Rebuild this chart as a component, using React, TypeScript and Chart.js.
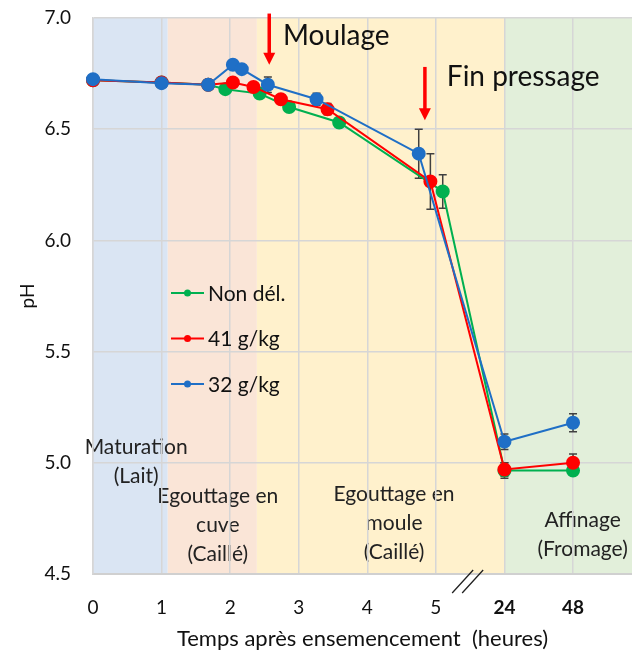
import React, { useEffect, useRef } from 'react';
import { Chart, registerables } from 'chart.js';

Chart.register(...registerables);

// ---- data (hours after inoculation, pH) ----
const hoursNonDel = [0, 1, 1.68, 1.93, 2.43, 2.86, 3.59, 5.1, 24, 48];
const phNonDel = [6.72, 6.71, 6.7, 6.68, 6.66, 6.6, 6.53, 6.22, 4.965, 4.965];
const errNonDel = [0, 0, 0, 0, 0, 0, 0, 0.075, 0.035, 0];

const hours41 = [0, 1, 1.68, 2.04, 2.34, 2.74, 3.42, 4.92, 24, 48];
const ph41 = [6.72, 6.71, 6.7, 6.71, 6.69, 6.635, 6.59, 6.265, 4.97, 5.0];
const err41 = [0, 0, 0, 0, 0, 0, 0.025, 0.125, 0.03, 0.04];

const hours32 = [0, 1, 1.68, 2.04, 2.17, 2.55, 3.26, 4.75, 24, 48];
const ph32 = [6.725, 6.707, 6.7, 6.79, 6.77, 6.7, 6.635, 6.39, 5.095, 5.18];
const err32 = [0, 0, 0, 0, 0, 0.035, 0.027, 0.11, 0.035, 0.04];

const seriesNames = ['Non dél.', '41 g/kg', '32 g/kg'];
const seriesColors = ['#00b050', '#ff0000', '#1f6fc6'];

// broken axis: hours after the break are placed at these axis positions
const breakHours = [24, 48];
const breakPositions = [6, 7];
const xTickPositions = [0, 1, 2, 3, 4, 5, 6, 7];
const yTicks = [4.5, 5.0, 5.5, 6.0, 6.5, 7.0];

// background phases (axis units)
const phaseFrom = [0, 1.09, 2.39, 6];
const phaseTo = [1.09, 2.39, 6, 7.86];
const phaseColors = ['#dae5f3', '#fae5d7', '#fff1cc', '#e2efda'];
const phaseLabels = [
  ['Maturation', '(Lait)'],
  ['Egouttage en', 'cuve', '(Caillé)'],
  ['Egouttage en', 'moule', '(Caillé)'],
  ['Affinage', '(Fromage)'],
];
const phaseLabelX = [0.63, 1.82, 4.39, 7.14];
const phaseLabelY = [5.072, 4.851, 4.86, 4.743];

// event annotations
const eventNames = ['Moulage', 'Fin pressage'];
const eventArrowX = [2.57, 4.84];
const eventArrowTop = [7.02, 6.78];
const eventArrowTip = [6.79, 6.54];
const eventTextX = [2.77, 5.16];
const eventTextY = [6.92, 6.735];

const FONT = 'Lato, "Open Sans", sans-serif';

const toAxis = (h: number) => (h <= 5.5 ? h : breakPositions[breakHours.indexOf(h)]);
const axisLabel = (v: number) => (v <= 5 ? String(v) : String(breakHours[breakPositions.indexOf(v)]));

export default function App() {
  const ref = useRef<HTMLCanvasElement | null>(null);

  useEffect(() => {
    if (!ref.current) return;

    const mk = (hours: number[], ph: number[]) => hours.map((h, i) => ({ x: toAxis(h), y: ph[i] }));
    const sets = [
      { name: seriesNames[2], color: seriesColors[2], data: mk(hours32, ph32), err: err32 },
      { name: seriesNames[1], color: seriesColors[1], data: mk(hours41, ph41), err: err41 },
      { name: seriesNames[0], color: seriesColors[0], data: mk(hoursNonDel, phNonDel), err: errNonDel },
    ];

    const bgPlugin = {
      id: 'phases',
      beforeDraw(chart: any) {
        const { ctx, chartArea: a, scales } = chart;
        const x = scales.x;
        const y = scales.y;
        ctx.save();
        phaseFrom.forEach((f, i) => {
          const x0 = Math.max(a.left, x.getPixelForValue(f));
          const x1 = Math.min(a.right, x.getPixelForValue(phaseTo[i]));
          ctx.fillStyle = phaseColors[i];
          ctx.fillRect(x0, a.top, x1 - x0, a.bottom - a.top);
        });
        ctx.fillStyle = '#222';
        ctx.font = `21px ${FONT}`;
        ctx.textAlign = 'center';
        ctx.textBaseline = 'middle';
        phaseLabels.forEach((lines, i) => {
          const cx = x.getPixelForValue(phaseLabelX[i]);
          const cy = y.getPixelForValue(phaseLabelY[i]);
          lines.forEach((l, k) => ctx.fillText(l, cx, cy + k * 29));
        });
        ctx.restore();
      },
    };

    const errPlugin = {
      id: 'errbars',
      beforeDatasetsDraw(chart: any) {
        const { ctx, scales } = chart;
        const x = scales.x;
        const y = scales.y;
        ctx.save();
        ctx.strokeStyle = '#404040';
        ctx.lineWidth = 1.5;
        sets.forEach((s) => {
          s.data.forEach((p, i) => {
            const e = s.err[i];
            if (!e) return;
            const px = x.getPixelForValue(p.x);
            const yt = y.getPixelForValue(p.y + e);
            const yb = y.getPixelForValue(p.y - e);
            ctx.beginPath();
            ctx.moveTo(px, yt);
            ctx.lineTo(px, yb);
            ctx.moveTo(px - 4, yt);
            ctx.lineTo(px + 4, yt);
            ctx.moveTo(px - 4, yb);
            ctx.lineTo(px + 4, yb);
            ctx.stroke();
          });
        });
        ctx.restore();
      },
    };

    const overlayPlugin = {
      id: 'overlay',
      afterDraw(chart: any) {
        const { ctx, chartArea: a, scales } = chart;
        const x = scales.x;
        const y = scales.y;
        ctx.save();
        // arrows + event labels
        eventNames.forEach((name, i) => {
          const ax = x.getPixelForValue(eventArrowX[i]);
          const top = y.getPixelForValue(eventArrowTop[i]);
          const tip = y.getPixelForValue(eventArrowTip[i]);
          ctx.strokeStyle = '#ff0000';
          ctx.fillStyle = '#ff0000';
          ctx.lineWidth = 3.5;
          ctx.beginPath();
          ctx.moveTo(ax, top);
          ctx.lineTo(ax, tip - 10);
          ctx.stroke();
          ctx.beginPath();
          ctx.moveTo(ax - 6, tip - 12);
          ctx.lineTo(ax + 6, tip - 12);
          ctx.lineTo(ax, tip);
          ctx.closePath();
          ctx.fill();
          ctx.fillStyle = '#111';
          ctx.font = `28px ${FONT}`;
          ctx.textAlign = 'left';
          ctx.textBaseline = 'middle';
          ctx.fillText(name, x.getPixelForValue(eventTextX[i]), y.getPixelForValue(eventTextY[i]));
        });
        // legend
        ctx.font = `21px ${FONT}`;
        ctx.textBaseline = 'middle';
        ctx.textAlign = 'left';
        const lx = a.left + 78;
        [2, 1, 0].forEach((si, k) => {
          const s = sets[si];
          const ly = 293 + k * 45.5;
          ctx.strokeStyle = s.color;
          ctx.lineWidth = 2;
          ctx.beginPath();
          ctx.moveTo(lx, ly);
          ctx.lineTo(lx + 33, ly);
          ctx.stroke();
          ctx.fillStyle = s.color;
          ctx.beginPath();
          ctx.arc(lx + 16.5, ly, 3.5, 0, Math.PI * 2);
          ctx.fill();
          ctx.fillStyle = '#111';
          ctx.fillText(s.name, lx + 37, ly + 1);
        });
        // axis break marks
        const bx = x.getPixelForValue(5.5);
        const by = a.bottom;
        ctx.strokeStyle = '#222';
        ctx.lineWidth = 1.3;
        ctx.beginPath();
        ctx.moveTo(bx - 18, by + 19);
        ctx.lineTo(bx + 3, by - 4);
        ctx.moveTo(bx - 8, by + 19);
        ctx.lineTo(bx + 13, by - 4);
        ctx.stroke();
        ctx.restore();
      },
    };

    const chart = new Chart(ref.current, {
      type: 'line',
      data: {
        datasets: sets.map((s) => ({
          label: s.name,
          data: s.data,
          borderColor: s.color,
          backgroundColor: s.color,
          pointBackgroundColor: s.color,
          pointBorderColor: s.color,
          pointRadius: 6,
          pointHoverRadius: 6,
          borderWidth: 2,
          tension: 0,
          fill: false,
          clip: false,
        })),
      },
      options: {
        responsive: false,
        animation: false,
        events: [],
        layout: { autoPadding: false, padding: { top: 18, right: 0, left: 0, bottom: 0 } },
        plugins: { legend: { display: false }, tooltip: { enabled: false } },
        scales: {
          x: {
            type: 'linear',
            min: 0,
            max: 7.86,
            afterBuildTicks: (scale: any) => {
              scale.ticks = xTickPositions.map((v) => ({ value: v }));
            },
            afterFit: (scale: any) => {
              scale.height = 81;
              scale.paddingLeft = 0;
              scale.paddingRight = 0;
            },
            grid: { color: '#d6d6d6', lineWidth: 1.5, drawTicks: false },
            border: { color: '#d0d0d0', width: 2 },
            ticks: {
              padding: 22,
              color: '#111',
              autoSkip: false,
              maxRotation: 0,
              font: (c: any) => ({ family: FONT, size: 19, weight: c.tick && c.tick.value >= 6 ? 'bold' : 'normal' }),
              callback: (v: any) => axisLabel(Number(v)),
            },
            title: {
              display: true,
              text: 'Temps après ensemencement  (heures)',
              color: '#111',
              font: { family: FONT, size: 22 },
              padding: { top: 0, bottom: 3 },
            },
          },
          y: {
            type: 'linear',
            min: 4.5,
            max: 7.0,
            afterBuildTicks: (scale: any) => {
              scale.ticks = yTicks.map((v) => ({ value: v }));
            },
            afterFit: (scale: any) => {
              scale.width = 93;
              scale.paddingTop = 0;
              scale.paddingBottom = 0;
            },
            grid: { color: '#d6d6d6', lineWidth: 1.5, drawTicks: false },
            border: { color: '#d6d6d6', width: 1.5 },
            ticks: {
              padding: 22,
              color: '#111',
              font: { family: FONT, size: 19 },
              callback: (v: any) => Number(v).toFixed(1),
            },
            title: {
              display: true,
              text: 'pH',
              color: '#111',
              font: { family: FONT, size: 19 },
              padding: { top: 16, bottom: 0 },
            },
          },
        },
      },
      plugins: [bgPlugin, errPlugin, overlayPlugin],
    });

    return () => chart.destroy();
  }, []);

  return (
    <div style={{ position: 'absolute', left: 0, top: 0, width: 632, height: 655, background: '#fff' }}>
      <canvas ref={ref} width={632} height={655} style={{ display: 'block' }} />
    </div>
  );
}
